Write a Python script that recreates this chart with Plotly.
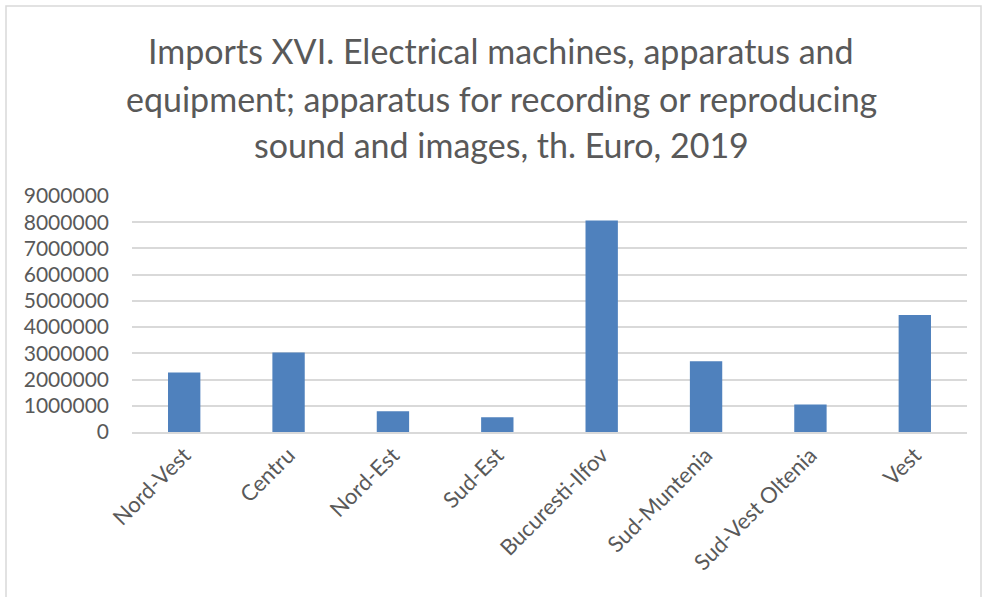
import plotly.graph_objects as go

regions = ["Nord-Vest", "Centru", "Nord-Est", "Sud-Est", "Bucuresti-Ilfov",
           "Sud-Muntenia", "Sud-Vest Oltenia", "Vest"]
imports_2019 = [2270000, 3030000, 790000, 560000, 8070000, 2700000, 1050000, 4460000]
y_ticks = [0, 1000000, 2000000, 3000000, 4000000, 5000000, 6000000, 7000000, 8000000, 9000000]
title_lines = ["Imports XVI. Electrical machines, apparatus and",
               "equipment; apparatus for recording or reproducing",
               "sound and images, th. Euro, 2019"]

W, H = 983, 597
L, R, T, B = 132, 16, 196, 165
pw, ph = W - L - R, H - T - B

fig = go.Figure(go.Bar(x=regions, y=imports_2019, marker_color="#4F81BD",
                       marker_line_width=0))

annotations = []
for i, line in enumerate(title_lines):
    annotations.append(dict(text=line, xref="paper", yref="paper",
                            x=(501 - L) / pw, y=(H - B - [50, 98, 145][i]) / ph,
                            showarrow=False, xanchor="center", yanchor="middle",
                            font=dict(family="Lato", size=34, color="#595959")))

fig.update_layout(
    width=W, height=H,
    margin=dict(l=L, r=R, t=T, b=B),
    paper_bgcolor="white", plot_bgcolor="white",
    showlegend=False,
    bargap=0.69,
    annotations=annotations,
    font=dict(family="Lato", color="#595959"),
    xaxis=dict(tickangle=-45, tickfont=dict(size=22, color="#595959"),
               showgrid=False, showline=True, linecolor="#d9d9d9", linewidth=1.5,
               ticks=""),
    yaxis=dict(range=[0, 9000000], tickvals=y_ticks,
               ticktext=[str(v) for v in y_ticks],
               tickfont=dict(size=21, color="#595959"),
               showgrid=True, gridcolor="#d9d9d9", gridwidth=1.5,
               zeroline=False, showline=False, ticks="", ticklabelstandoff=22),
    shapes=[dict(type="rect", xref="paper", yref="paper",
                 x0=(6 - L) / pw, x1=(981 - L) / pw,
                 y0=-1, y1=(H - B - 6) / ph,
                 line=dict(color="#d9d9d9", width=1.5), fillcolor="rgba(0,0,0,0)",
                 layer="below")],
)

fig.write_html("out.html", config={"displayModeBar": False},
               post_script="document.body.style.margin='0';document.body.style.overflow='hidden';")
